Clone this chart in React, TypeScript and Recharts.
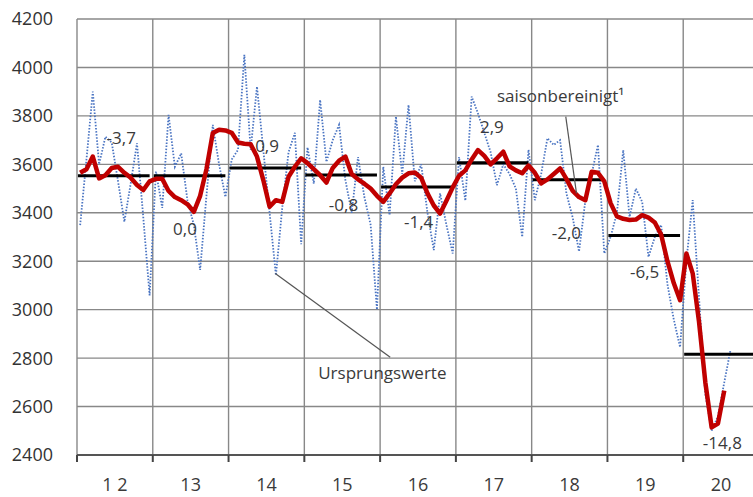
import {
  CartesianGrid,
  Line,
  LineChart,
  ReferenceDot,
  ReferenceLine,
  XAxis,
  YAxis,
} from "recharts";

// Jahre (Beschriftung unter der Achse)
const yearLabels = ["1 2", "13", "14", "15", "16", "17", "18", "19", "20"];

// saisonbereinigt, monatlich ab Jan 2012
const saisonbereinigt = [
  3565, 3580, 3632, 3542, 3555, 3585, 3590, 3565, 3545, 3515, 3494, 3530,
  3540, 3540, 3490, 3465, 3452, 3435, 3404, 3470, 3580, 3729, 3743, 3740,
  3730, 3690, 3685, 3683, 3632, 3535, 3425, 3452, 3445, 3549, 3590, 3625,
  3605, 3580, 3555, 3525, 3585, 3615, 3632, 3560, 3538, 3520, 3500, 3470,
  3445, 3480, 3518, 3545, 3563, 3566, 3545, 3480, 3430, 3397, 3450, 3505,
  3553, 3575, 3620, 3659, 3635, 3600, 3625, 3652, 3592, 3575, 3563, 3595,
  3565, 3521, 3538, 3560, 3583, 3540, 3490, 3465, 3452, 3569, 3565, 3530,
  3440, 3385, 3375, 3370, 3372, 3390, 3380, 3360, 3310, 3200, 3110, 3039,
  3232, 3150, 2950, 2700, 2514, 2530, 2666,
];

// Ursprungswerte
const ursprungswerte = [
  3349, 3620, 3900, 3600, 3714, 3690, 3530, 3363, 3520, 3687, 3380, 3059,
  3570, 3420, 3804, 3590, 3645, 3450, 3350, 3164, 3470, 3763, 3600, 3465,
  3620, 3660, 4052, 3660, 3921, 3660, 3400, 3142, 3420, 3650, 3730, 3270,
  3670, 3520, 3866, 3610, 3700, 3763, 3535, 3400, 3630, 3466, 3350, 3000,
  3590, 3390, 3797, 3560, 3845, 3530, 3600, 3400, 3246, 3480, 3350, 3232,
  3630, 3450, 3880, 3810, 3730, 3650, 3514, 3600, 3560, 3500, 3300, 3660,
  3452, 3560, 3708, 3680, 3700, 3480, 3380, 3240, 3450, 3560, 3680, 3232,
  3300, 3400, 3659, 3383, 3500, 3445, 3218, 3300, 3350, 3105, 2960, 2845,
  3200, 3452, 3050, 2650, 2500, 2560, 2700, 2835,
];

// Jahresdurchschnitt und Veränderung zum Vorjahr in %
const jahresMittel = [3553, 3553, 3585, 3556, 3506, 3607, 3536, 3306, 2816];
const veraenderung = ["-3,7", "0,0", "0,9", "-0,8", "-1,4", "2,9", "-2,0", "-6,5", "-14,8"];

const yTicks = [2400, 2600, 2800, 3000, 3200, 3400, 3600, 3800, 4000, 4200];

// wo die Prozentzahlen stehen (Monat, Wert)
const labelPos: [number, number][] = [
  [7.0, 3708],
  [17.1, 3335],
  [30.1, 3677],
  [42.2, 3432],
  [54.1, 3363],
  [65.7, 3756],
  [77.5, 3315],
  [89.9, 3156],
  [102.2, 2449],
];

const font = "'Open Sans', sans-serif";
const textColor = "#3a3a3a";

const data = ursprungswerte.map((v, i) => ({
  t: i + 0.5,
  orig: v,
  sa: saisonbereinigt[i] ?? null,
}));

const yearBounds = [...yearLabels.map((_, k) => k * 12), 108];
const yearCenters = yearLabels.map((_, k) => k * 12 + 6);

function YearTick({ x, y, payload }: any) {
  const idx = Math.round((payload.value - 6) / 12);
  return (
    <text
      x={x}
      y={y}
      dy={26}
      textAnchor="middle"
      fill={textColor}
      fontSize={18}
      fontFamily={font}
    >
      {yearLabels[idx]}
    </text>
  );
}

export default function App() {
  return (
    <div
      style={{
        position: "absolute",
        left: 0,
        top: 0,
        width: 753,
        height: 497,
        overflow: "hidden",
        background: "#fff",
      }}
    >
      <LineChart
        width={760}
        height={497}
        data={data}
        margin={{ top: 19, right: 1, bottom: 0, left: 0 }}
      >
        <CartesianGrid stroke="#888" strokeWidth={1.4} />
        <XAxis
          type="number"
          dataKey="t"
          domain={[0, 108]}
          ticks={yearBounds}
          tickFormatter={() => ""}
          height={10}
          tickSize={7}
          tickLine={{ stroke: "#444", strokeWidth: 2 }}
          axisLine={{ stroke: "#555", strokeWidth: 2 }}
          allowDataOverflow
        />
        <XAxis
          xAxisId="lab"
          type="number"
          dataKey="t"
          domain={[0, 108]}
          ticks={yearCenters}
          height={32}
          tickSize={0}
          tickMargin={0}
          axisLine={false}
          tickLine={false}
          tick={<YearTick />}
          allowDataOverflow
        />
        <YAxis
          domain={[2400, 4200]}
          ticks={yTicks}
          width={77}
          tickSize={0}
          tickMargin={24}
          axisLine={false}
          tickLine={false}
          tick={{ fill: "#333", fontSize: 18, fontFamily: font }}
        />
        <Line
          dataKey="orig"
          stroke="#4a74c2"
          strokeWidth={1.8}
          strokeDasharray="1.5 1.6"
          dot={false}
          isAnimationActive={false}
        />
        {jahresMittel.map((v, k) => (
          <ReferenceLine
            key={"m" + k}
            segment={[
              { x: k * 12 + 0.15, y: v },
              { x: k === 8 ? 108 : k * 12 + 11.5, y: v },
            ]}
            stroke="#000"
            strokeWidth={3}
          />
        ))}
        <Line
          dataKey="sa"
          stroke="#c00000"
          strokeWidth={4.5}
          strokeLinejoin="round"
          dot={false}
          isAnimationActive={false}
        />
        <ReferenceLine
          segment={[
            { x: 77.4, y: 3797 },
            { x: 79.1, y: 3480 },
          ]}
          stroke="#555"
          strokeWidth={1.2}
        />
        <ReferenceLine
          segment={[
            { x: 31.4, y: 3149 },
            { x: 49.6, y: 2804 },
          ]}
          stroke="#555"
          strokeWidth={1.2}
        />
        {veraenderung.map((txt, k) => (
          <ReferenceDot
            key={"l" + k}
            x={labelPos[k][0]}
            y={labelPos[k][1]}
            r={0}
            fill="none"
            stroke="none"
            label={{
              value: txt,
              position: "center",
              fill: textColor,
              fontSize: 17,
              fontFamily: font,
            }}
          />
        ))}
        <ReferenceDot
          x={66.5}
          y={3883}
          r={0}
          fill="none"
          stroke="none"
          label={{
            value: "saisonbereinigt¹",
            position: "right",
            offset: 0,
            fill: textColor,
            fontSize: 17,
            fontFamily: font,
          }}
        />
        <ReferenceDot
          x={38.2}
          y={2737}
          r={0}
          fill="none"
          stroke="none"
          label={{
            value: "Ursprungswerte",
            position: "right",
            offset: 0,
            fill: textColor,
            fontSize: 17,
            fontFamily: font,
          }}
        />
      </LineChart>
    </div>
  );
}
